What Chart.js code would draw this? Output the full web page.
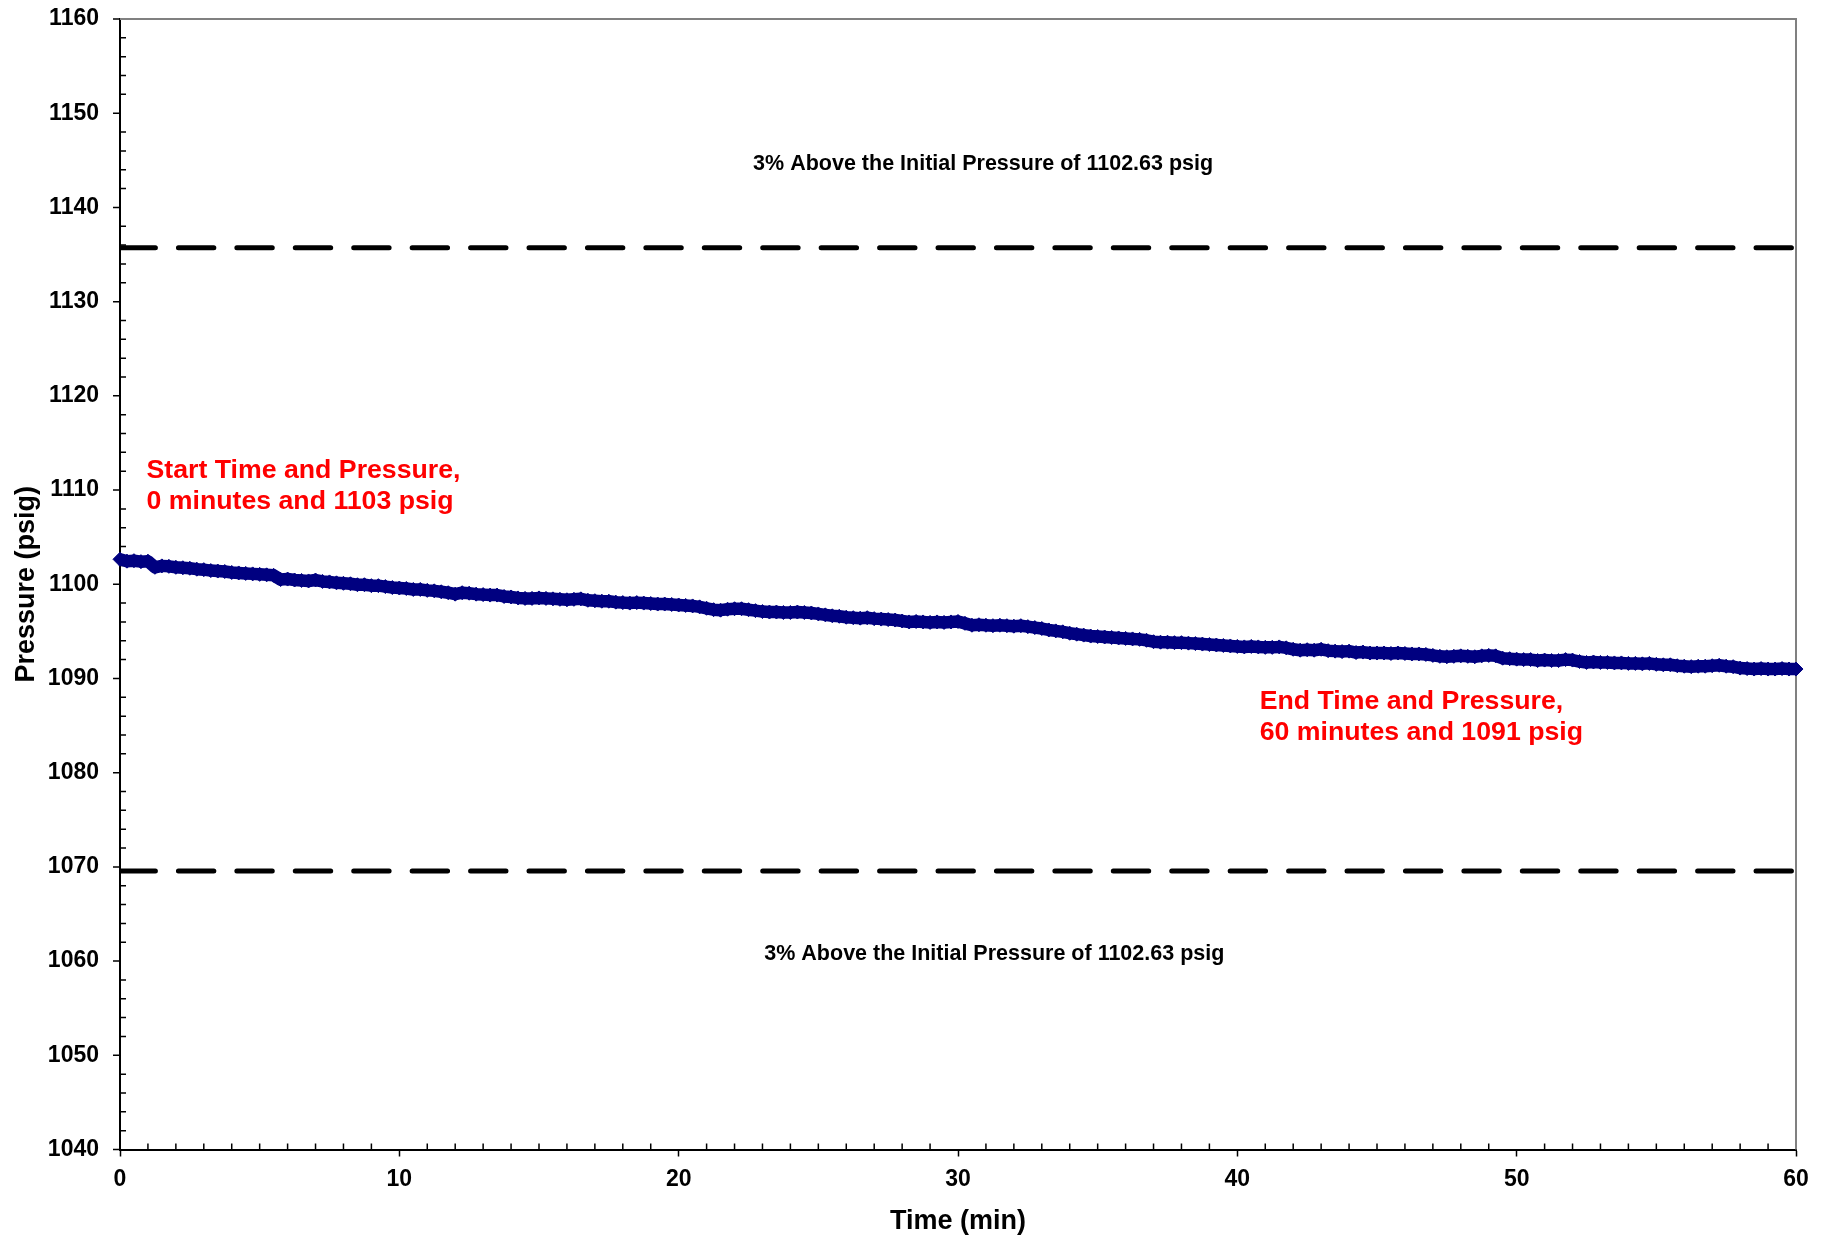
<!DOCTYPE html>
<html>
<head>
<meta charset="utf-8">
<script src="https://cdn.jsdelivr.net/npm/chart.js@4.4.1/dist/chart.umd.min.js"></script>
<style>
  html, body { margin: 0; padding: 0; background: #ffffff; }
  #wrap { width: 1831px; height: 1239px; position: relative; }
</style>
</head>
<body>
<div id="wrap"><canvas id="c"></canvas></div>
<script>
// ---------------- data ----------------
const times = [
  0,0.25,0.5,0.75,1,1.25,1.5,1.75,2,2.25,2.5,2.75,3,3.25,3.5,3.75,4,4.25,4.5,4.75,
  5,5.25,5.5,5.75,6,6.25,6.5,6.75,7,7.25,7.5,7.75,8,8.25,8.5,8.75,9,9.25,9.5,9.75,
  10,10.25,10.5,10.75,11,11.25,11.5,11.75,12,12.25,12.5,12.75,13,13.25,13.5,13.75,14,14.25,14.5,14.75,
  15,15.25,15.5,15.75,16,16.25,16.5,16.75,17,17.25,17.5,17.75,18,18.25,18.5,18.75,19,19.25,19.5,19.75,
  20,20.25,20.5,20.75,21,21.25,21.5,21.75,22,22.25,22.5,22.75,23,23.25,23.5,23.75,24,24.25,24.5,24.75,
  25,25.25,25.5,25.75,26,26.25,26.5,26.75,27,27.25,27.5,27.75,28,28.25,28.5,28.75,29,29.25,29.5,29.75,
  30,30.25,30.5,30.75,31,31.25,31.5,31.75,32,32.25,32.5,32.75,33,33.25,33.5,33.75,34,34.25,34.5,34.75,
  35,35.25,35.5,35.75,36,36.25,36.5,36.75,37,37.25,37.5,37.75,38,38.25,38.5,38.75,39,39.25,39.5,39.75,
  40,40.25,40.5,40.75,41,41.25,41.5,41.75,42,42.25,42.5,42.75,43,43.25,43.5,43.75,44,44.25,44.5,44.75,
  45,45.25,45.5,45.75,46,46.25,46.5,46.75,47,47.25,47.5,47.75,48,48.25,48.5,48.75,49,49.25,49.5,49.75,
  50,50.25,50.5,50.75,51,51.25,51.5,51.75,52,52.25,52.5,52.75,53,53.25,53.5,53.75,54,54.25,54.5,54.75,
  55,55.25,55.5,55.75,56,56.25,56.5,56.75,57,57.25,57.5,57.75,58,58.25,58.5,58.75,59,59.25,59.5,59.75,
  60
];
const pressure = [
  1102.65,1102.45,1102.5,1102.4,1102.45,1101.8,1101.95,1101.9,1101.8,1101.75,1101.7,1101.6,1101.55,1101.45,1101.4,1101.35,1101.25,1101.2,1101.15,1101.1,
  1101.05,1101.0,1100.95,1100.5,1100.55,1100.45,1100.4,1100.35,1100.45,1100.3,1100.25,1100.15,1100.1,1100.05,1099.95,1099.95,1099.85,1099.85,1099.75,1099.65,
  1099.6,1099.55,1099.45,1099.45,1099.35,1099.3,1099.2,1099.1,1098.95,1099.1,1099.05,1098.95,1098.9,1098.85,1098.85,1098.7,1098.65,1098.55,1098.5,1098.5,
  1098.55,1098.5,1098.45,1098.4,1098.35,1098.4,1098.45,1098.3,1098.25,1098.2,1098.2,1098.1,1098.05,1098.0,1098.05,1098.0,1097.95,1097.9,1097.9,1097.85,
  1097.8,1097.75,1097.7,1097.6,1097.45,1097.3,1097.25,1097.35,1097.4,1097.4,1097.3,1097.2,1097.1,1097.05,1097.05,1097.0,1097.0,1097.05,1097.0,1096.95,
  1096.85,1096.75,1096.65,1096.6,1096.5,1096.45,1096.4,1096.45,1096.35,1096.3,1096.25,1096.2,1096.1,1096.0,1096.05,1096.0,1095.95,1096.0,1095.95,1096.0,
  1096.05,1095.85,1095.65,1095.7,1095.65,1095.6,1095.65,1095.6,1095.55,1095.6,1095.5,1095.4,1095.3,1095.15,1095.05,1094.95,1094.8,1094.7,1094.6,1094.5,
  1094.45,1094.4,1094.35,1094.3,1094.25,1094.2,1094.15,1094.05,1093.9,1093.85,1093.85,1093.8,1093.8,1093.75,1093.7,1093.65,1093.6,1093.55,1093.5,1093.45,
  1093.4,1093.35,1093.4,1093.35,1093.3,1093.3,1093.35,1093.25,1093.1,1093.0,1093.05,1093.0,1093.1,1092.95,1092.9,1092.85,1092.9,1092.75,1092.8,1092.7,
  1092.7,1092.7,1092.65,1092.7,1092.65,1092.6,1092.6,1092.55,1092.45,1092.35,1092.3,1092.35,1092.4,1092.35,1092.3,1092.4,1092.45,1092.4,1092.15,1092.1,
  1092.05,1092.0,1092.0,1091.9,1091.95,1091.9,1091.9,1092.0,1091.95,1091.8,1091.7,1091.75,1091.7,1091.7,1091.65,1091.65,1091.6,1091.6,1091.55,1091.6,
  1091.5,1091.45,1091.45,1091.35,1091.3,1091.25,1091.3,1091.3,1091.35,1091.4,1091.3,1091.25,1091.1,1091.05,1091.0,1091.05,1091.0,1091.0,1091.05,1091.0,
  1091.0
];
const limitTimes = [0, 60];
const upperLimit = [1135.71, 1135.71];
const lowerLimit = [1069.55, 1069.55];
const xAxisRange = [0, 60];
const yAxisRange = [1040, 1160];
const xMajorStep = 10, xMinorStep = 1;
const yMajorStep = 10, yMinorStep = 2;
const xTitle = 'Time (min)';
const yTitle = 'Pressure (psig)';
const upperLabel = '3% Above the Initial Pressure of 1102.63 psig';
const lowerLabel = '3% Above the Initial Pressure of 1102.63 psig';
const startLabel = ['Start Time and Pressure,', '0 minutes and 1103 psig'];
const endLabel = ['End Time and Pressure,', '60 minutes and 1091 psig'];

// ---------------- chart ----------------
const FONT = '"Liberation Sans", Arial, Helvetica, sans-serif';

const textNotes = [
  { lines: [upperLabel], x: 30.9, y: 1144.55, align: 'center', color: '#000000', size: 21.5, lineGap: 0 },
  { lines: [lowerLabel], x: 31.3, y: 1060.75, align: 'center', color: '#000000', size: 21.5, lineGap: 0 },
  { lines: startLabel, x: 0.95, y: 1112.1, align: 'left', color: '#ff0000', size: 26.7, lineGap: 31.5 },
  { lines: endLabel, x: 40.8, y: 1087.55, align: 'left', color: '#ff0000', size: 26.7, lineGap: 31.5 }
];

const decorPlugin = {
  id: 'decor',
  beforeDatasetsDraw(chart) {
    const { ctx, chartArea: a, scales: { x, y } } = chart;
    ctx.save();
    // top and right frame in grey
    ctx.strokeStyle = '#808080';
    ctx.lineWidth = 2;
    ctx.beginPath();
    ctx.moveTo(a.left, a.top);
    ctx.lineTo(a.right, a.top);
    ctx.lineTo(a.right, a.bottom);
    ctx.stroke();
    ctx.strokeStyle = '#000000';
    ctx.lineWidth = 1.5;
    ctx.beginPath();
    // y major ticks (outside)
    for (let v = yAxisRange[0]; v <= yAxisRange[1]; v += yMajorStep) {
      const py = y.getPixelForValue(v);
      ctx.moveTo(a.left - 7, py);
      ctx.lineTo(a.left, py);
    }
    // minor ticks (inside)
    for (let v = yAxisRange[0] + yMinorStep; v < yAxisRange[1]; v += yMinorStep) {
      if (v % yMajorStep === 0) continue;
      const py = y.getPixelForValue(v);
      ctx.moveTo(a.left, py);
      ctx.lineTo(a.left + 6, py);
    }
    for (let v = xAxisRange[0] + xMinorStep; v < xAxisRange[1]; v += xMinorStep) {
      if (v % xMajorStep === 0) continue;
      const px = x.getPixelForValue(v);
      ctx.moveTo(px, a.bottom);
      ctx.lineTo(px, a.bottom - 6);
    }
    ctx.stroke();
    ctx.restore();
  },
  afterDatasetsDraw(chart) {
    const { ctx, scales: { x, y } } = chart;
    ctx.save();
    ctx.textBaseline = 'middle';
    for (const n of textNotes) {
      ctx.font = 'bold ' + n.size + 'px ' + FONT;
      ctx.fillStyle = n.color;
      ctx.textAlign = n.align;
      const px = x.getPixelForValue(n.x);
      const py = y.getPixelForValue(n.y);
      n.lines.forEach((line, i) => ctx.fillText(line, px, py + i * n.lineGap));
    }
    ctx.restore();
  }
};

const pressureData = times.map((t, i) => ({ x: t, y: pressure[i] }));
const upperData = limitTimes.map((t, i) => ({ x: t, y: upperLimit[i] }));
const lowerData = limitTimes.map((t, i) => ({ x: t, y: lowerLimit[i] }));

const dashStyle = {
  borderColor: '#000000',
  borderWidth: 5,
  borderDash: [35.4, 23.03],
  borderCapStyle: 'round',
  pointRadius: 0,
  fill: false,
  tension: 0
};

new Chart(document.getElementById('c'), {
  type: 'scatter',
  data: {
    datasets: [
      Object.assign({ label: 'Upper limit', data: upperData, showLine: true }, dashStyle),
      Object.assign({ label: 'Lower limit', data: lowerData, showLine: true }, dashStyle),
      {
        label: 'Pressure',
        data: pressureData,
        showLine: true,
        borderColor: '#000080',
        backgroundColor: '#000080',
        borderWidth: 12.5,
        borderJoinStyle: 'round',
        pointStyle: 'rectRot',
        pointRadius: 7,
        pointBorderWidth: 1,
        pointBorderColor: '#000080',
        pointBackgroundColor: '#000080',
        clip: false
      }
    ]
  },
  options: {
    responsive: true,
    maintainAspectRatio: false,
    devicePixelRatio: 1,
    animation: false,
    layout: { padding: { left: 0, top: 19, right: 35, bottom: 0 } },
    plugins: {
      legend: { display: false },
      tooltip: { enabled: false }
    },
    scales: {
      x: {
        type: 'linear',
        min: xAxisRange[0],
        max: xAxisRange[1],
        afterFit(scale) { scale.height = 89.5; },
        border: { display: true, color: '#000000', width: 2 },
        grid: { drawOnChartArea: false, drawTicks: true, tickLength: 7, tickWidth: 1.5, tickColor: '#000000' },
        ticks: {
          stepSize: xMajorStep,
          padding: 9,
          color: '#000000',
          font: { family: FONT, size: 23, weight: 'bold' },
          maxRotation: 0,
          callback: (v) => String(v)
        },
        title: {
          display: true,
          text: xTitle,
          color: '#000000',
          font: { family: FONT, size: 27, weight: 'bold' },
          padding: { top: 0, bottom: 1 }
        }
      },
      y: {
        type: 'linear',
        min: yAxisRange[0],
        max: yAxisRange[1],
        afterFit(scale) { scale.width = 120; },
        border: { display: true, color: '#000000', width: 2 },
        grid: { drawOnChartArea: false, drawTicks: true, tickLength: 17, tickWidth: 1.5, tickColor: 'rgba(0,0,0,0)' },
        ticks: {
          stepSize: yMajorStep,
          padding: 4,
          color: '#000000',
          font: { family: FONT, size: 23, weight: 'bold' },
          callback: (v) => String(v)
        },
        title: {
          display: true,
          text: yTitle,
          color: '#000000',
          font: { family: FONT, size: 27, weight: 'bold' },
          padding: { top: 10, bottom: 0 }
        }
      }
    }
  },
  plugins: [decorPlugin]
});
</script>
</body>
</html>
